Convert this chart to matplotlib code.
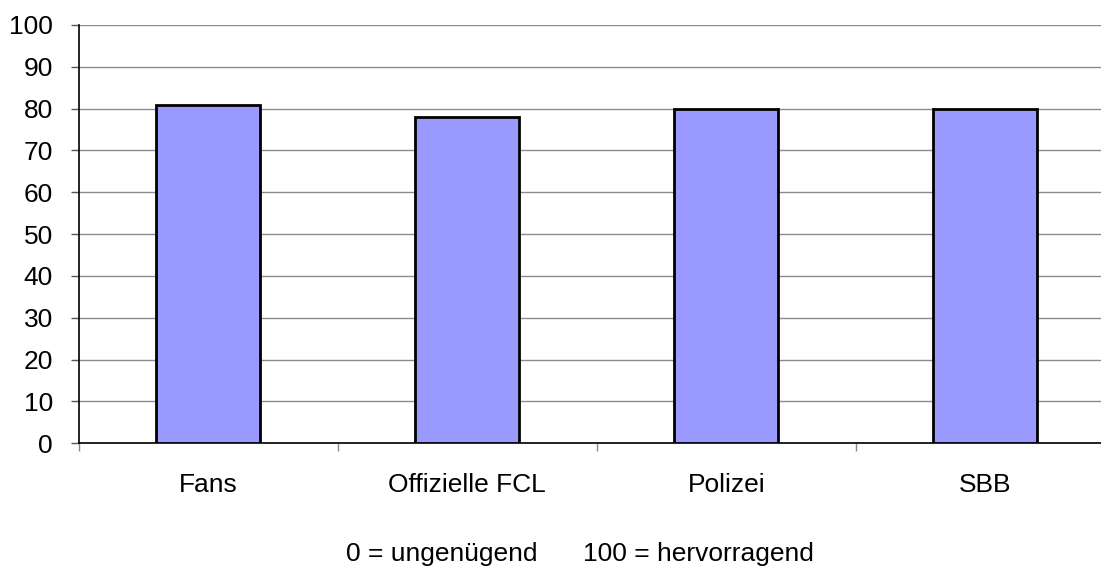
import matplotlib
matplotlib.use("Agg")
import matplotlib.pyplot as plt
import numpy as np

categories = ["Fans", "Offizielle FCL", "Polizei", "SBB"]
values = [80.8, 77.9, 80.0, 80.0]
y_ticks = [0, 10, 20, 30, 40, 50, 60, 70, 80, 90, 100]
footer_left = "0 = ungenügend"
footer_right = "100 = hervorragend"

plt.rcParams["font.family"] = ["Liberation Sans", "DejaVu Sans"]
FS = 19

fig = plt.figure(figsize=(11.01, 5.67), dpi=100)
ax = fig.add_axes([78.7 / 1101, 123.7 / 567, 1036 / 1101, 418.3 / 567])

x = np.arange(len(categories))
ax.bar(x, values, width=0.40, color="#9999FF", edgecolor="black", linewidth=2, zorder=3)

ax.set_xlim(-0.5, len(categories) - 0.5)
ax.set_ylim(0, 100)
ax.set_yticks(y_ticks)
ax.tick_params(axis="y", labelsize=FS, length=5.5, width=1, color="#555555", pad=13)
ax.grid(axis="y", color="#8c8c8c", linewidth=1, zorder=0)

# category labels centred, ticks on the category boundaries
ax.set_xticks(np.arange(len(categories) + 1) - 0.5)
ax.set_xticklabels([])
ax.tick_params(axis="x", length=5.5, width=1, color="#888888")
label_y = -(491.7 - 443.3) / 418.3
for i, c in enumerate(categories):
    ax.text(i, label_y, c, ha="center", va="baseline", fontsize=FS,
            transform=ax.get_xaxis_transform(), clip_on=False)

for s in ["top", "right"]:
    ax.spines[s].set_visible(False)
ax.spines["left"].set_color("black")
ax.spines["bottom"].set_color("black")
ax.spines["left"].set_linewidth(1.2)
ax.spines["bottom"].set_linewidth(1.2)

fy = 1 - 561 / 567
fig.text(538 / 1101, fy, footer_left, ha="right", va="baseline", fontsize=FS)
fig.text(583 / 1101, fy, footer_right, ha="left", va="baseline", fontsize=FS)

fig.savefig("out.png", dpi=100)
